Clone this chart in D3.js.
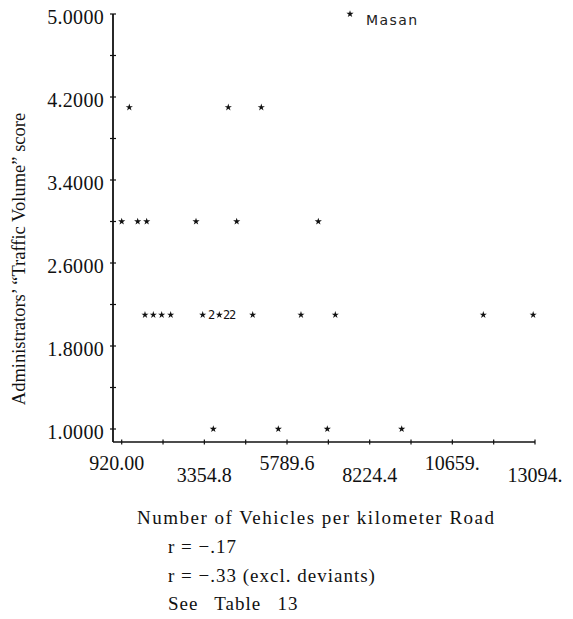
<!DOCTYPE html>
<html>
<head>
<meta charset="utf-8">
<script src="https://cdn.jsdelivr.net/npm/d3@7"></script>
<style>
  html, body { margin: 0; padding: 0; background: #fff; }
  svg { display: block; }
  .serif { font-family: "Liberation Serif", "DejaVu Serif", serif; fill: #111; }
</style>
</head>
<body>
<svg id="chart" width="573" height="619"></svg>
<script>
// Vehicles per km of road vs. administrators' traffic-volume score
const vehicles = [
  1144, 4060, 5032,
  920, 1391, 1656, 3109, 4307, 6711,
  1606, 1851, 2098, 2363, 3306, 3571, 3795, 4013, 4190, 4779, 6201, 7212, 11571, 13040,
  3618, 5533, 6976, 9168,
  7645
];
const scores = [
  4.1, 4.1, 4.1,
  3.0, 3.0, 3.0, 3.0, 3.0, 3.0,
  2.1, 2.1, 2.1, 2.1, 2.1, 2.1, 2.1, 2.1, 2.1, 2.1, 2.1, 2.1, 2.1, 2.1,
  1.0, 1.0, 1.0, 1.0,
  5.0
];
// number of cities sharing each plotted position
const counts = [
  1, 1, 1,
  1, 1, 1, 1, 1, 1,
  1, 1, 1, 1, 1, 2, 1, 2, 2, 1, 1, 1, 1, 1,
  1, 1, 1, 1,
  1
];
const pointNames = [
  "", "", "",
  "", "", "", "", "", "",
  "", "", "", "", "", "", "", "", "", "", "", "", "", "",
  "", "", "", "",
  "Masan"
];

const xTicks = [920, 3354.8, 5789.6, 8224.4, 10659, 13094];
const xTickLabels = ["920.00", "3354.8", "5789.6", "8224.4", "10659.", "13094."];
const yTicks = [1.0, 1.8, 2.6, 3.4, 4.2, 5.0];
const yTickLabels = ["1.0000", "1.8000", "2.6000", "3.4000", "4.2000", "5.0000"];

const xTitle = "Number of Vehicles per kilometer Road";
const yTitle = "Administrators\u2019 \u201cTraffic Volume\u201d score";
const notes = ["r = \u2212.17", "r = \u2212.33 (excl. deviants)", "See\u2002 Table\u2002 13"];

const svg = d3.select("#chart");

const x = d3.scaleLinear().domain([920, 13094]).range([121.7, 535]);
const y = d3.scaleLinear().domain([1, 5]).range([429, 14]);

const axisX = 113;   // position of the vertical axis line
const axisY = 442;   // position of the horizontal axis line

// half-step minor/major ticks
const xStep = (xTicks[1] - xTicks[0]) / 2;
const xAllTicks = d3.range(0, 11).map(i => xTicks[0] + i * xStep);
const yAllTicks = d3.range(0, 11).map(i => 1 + i * 0.4);

const axes = svg.append("g").attr("stroke", "#111");

// vertical axis
axes.append("line")
  .attr("x1", axisX).attr("x2", axisX)
  .attr("y1", y(5)).attr("y2", axisY)
  .attr("stroke-width", 1.8);
axes.selectAll(".ytick").data(yAllTicks).join("line")
  .attr("x1", axisX - 3).attr("x2", axisX + 3)
  .attr("y1", d => y(d)).attr("y2", d => y(d))
  .attr("stroke-width", 1.2);

// horizontal axis
axes.append("line")
  .attr("x1", axisX).attr("x2", x(13094))
  .attr("y1", axisY).attr("y2", axisY)
  .attr("stroke-width", 1.6);
axes.selectAll(".xtick").data(xAllTicks).join("line")
  .attr("x1", d => x(d)).attr("x2", d => x(d))
  .attr("y1", axisY - 2.5).attr("y2", axisY + 2.5)
  .attr("stroke-width", 1.2);

// y tick labels
svg.append("g").selectAll("text").data(yTicks).join("text")
  .attr("class", "serif")
  .attr("x", 104)
  .attr("y", d => y(d) + 10)
  .attr("text-anchor", "end")
  .attr("font-size", 20)
  .attr("letter-spacing", 0.3)
  .text((d, i) => yTickLabels[i]);

// x tick labels, staggered on two rows
svg.append("g").selectAll("text").data(xTicks).join("text")
  .attr("class", "serif")
  .attr("x", (d, i) => x(d) - (i === 0 ? 5 : 0))
  .attr("y", (d, i) => i % 2 === 0 ? 470 : 482)
  .attr("text-anchor", "middle")
  .attr("font-size", 20)
  .text((d, i) => xTickLabels[i]);

// axis titles
svg.append("text")
  .attr("class", "serif")
  .attr("transform", "translate(25,259) rotate(-90)")
  .attr("text-anchor", "middle")
  .attr("font-size", 18.5)
  .text(yTitle);

svg.append("text")
  .attr("class", "serif")
  .attr("x", 137).attr("y", 524)
  .attr("font-size", 19)
  .attr("letter-spacing", 1.5)
  .text(xTitle);

svg.append("g").selectAll("text").data(notes).join("text")
  .attr("class", "serif")
  .attr("x", 168)
  .attr("y", (d, i) => 553 + i * 28.5)
  .attr("font-size", 19)
  .attr("letter-spacing", 1)
  .text(d => d);

// points
const pts = vehicles.map((v, i) => ({ v, s: scores[i], n: counts[i], name: pointNames[i] }));
const star = d3.symbol().type(d3.symbolStar).size(16);

const marks = svg.append("g");
marks.selectAll("path").data(pts.filter(d => d.n === 1)).join("path")
  .attr("transform", d => `translate(${x(d.v)},${y(d.s)})`)
  .attr("d", star)
  .attr("fill", "#111");

marks.selectAll("text").data(pts.filter(d => d.n > 1)).join("text")
  .attr("x", d => x(d.v))
  .attr("y", d => y(d.s) + 4.5)
  .attr("text-anchor", "middle")
  .attr("font-family", "'DejaVu Sans Mono', 'Liberation Mono', monospace")
  .attr("font-size", 12)
  .attr("fill", "#111")
  .text(d => d.n);

// point name labels
svg.append("g").selectAll("text").data(pts.filter(d => d.name)).join("text")
  .attr("x", d => x(d.v) + 16)
  .attr("y", d => y(d.s) + 11)
  .attr("font-family", "'DejaVu Sans', sans-serif")
  .attr("font-size", 14)
  .attr("letter-spacing", 1.4)
  .attr("fill", "#222")
  .text(d => d.name);
</script>
</body>
</html>
